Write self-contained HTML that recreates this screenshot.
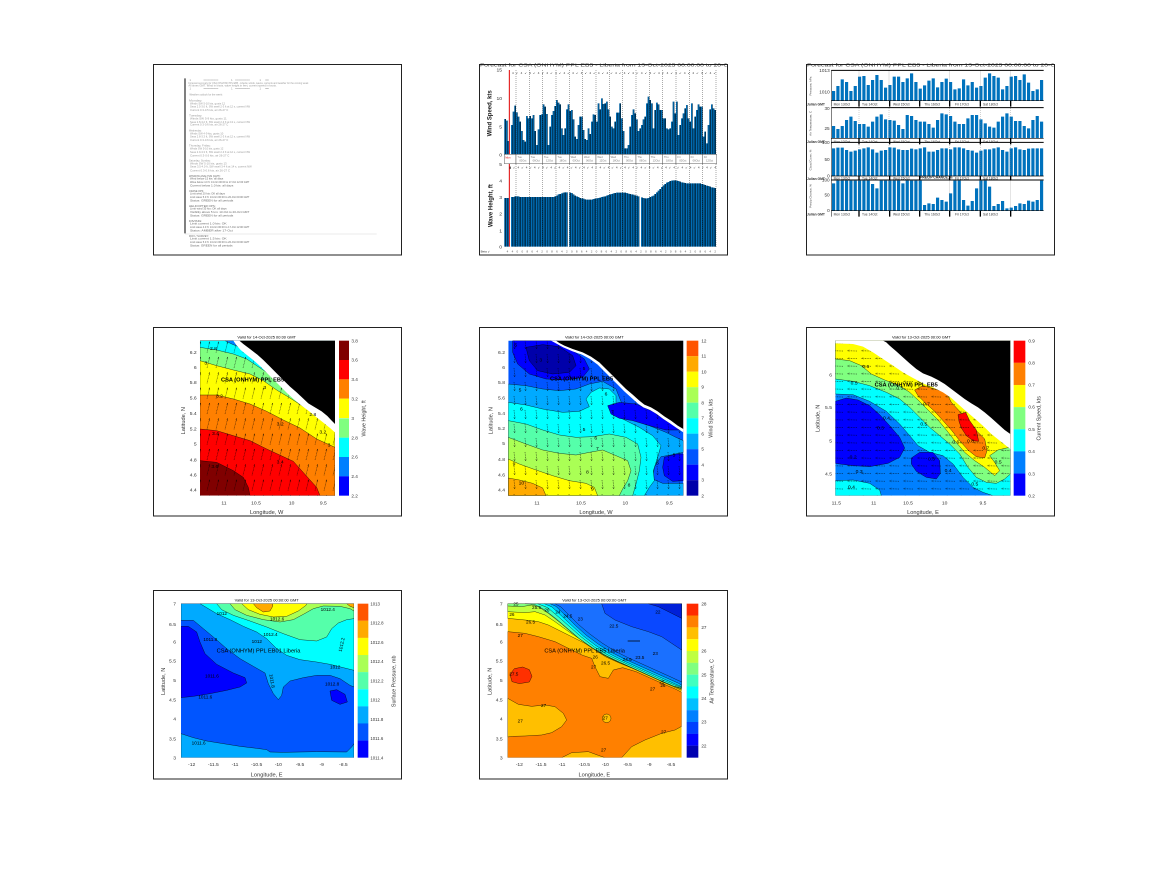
<!DOCTYPE html>
<html><head><meta charset="utf-8"><style>
html,body{margin:0;padding:0;background:#fff;}
svg{display:block;font-family:"Liberation Sans",sans-serif;}
</style></head><body>
<svg width="1167" height="875" viewBox="0 0 1167 875" xmlns="http://www.w3.org/2000/svg">
<defs>
<pattern id="vl" width="5" height="10" patternUnits="userSpaceOnUse"><rect x="3.4" y="0" width="1.7" height="10" fill="#000"/></pattern>
<pattern id="a4" width="27" height="46" patternUnits="userSpaceOnUse"><path d="M9 40L17 8M17 8l-4.5 3.5M17 8l0.5 5.5" stroke="#000" stroke-width="1.4" fill="none" stroke-dasharray="2.5 2"/></pattern>
<pattern id="a5" width="33" height="42" patternUnits="userSpaceOnUse"><path d="M15 6L17 32M17 32l-3.5-5M17 32l3-5.5" stroke="#000" stroke-width="1.3" fill="none" stroke-dasharray="3 2"/></pattern>
<pattern id="a6" width="42" height="23" patternUnits="userSpaceOnUse"><path d="M36 12L8 11M8 11l5-3M8 11l5 3" stroke="#000" stroke-width="1.3" fill="none" stroke-dasharray="3 2"/></pattern>
<clipPath id="c4"><rect x="150" y="50" width="405" height="465"/></clipPath>
<clipPath id="c5"><rect x="97" y="50" width="525" height="465"/></clipPath>
<clipPath id="c7"><rect x="93" y="50" width="519" height="462"/></clipPath>
<clipPath id="c8"><rect x="95" y="50" width="522" height="462"/></clipPath>
<clipPath id="cf"><rect x="9" y="9" width="743" height="573"/></clipPath>
</defs>
<rect width="1167" height="875" fill="#fff"/>

<!-- ============ P1 text document ============ -->
<g transform="translate(150,60) scale(0.333333)">
<path d="M105 55V520" stroke="#000" stroke-width="3"/>
<path d="M105 522H680" stroke="#e4e4e4" stroke-width="2"/>
<g font-size="9" fill="#9a9a9a" lengthAdjust="spacingAndGlyphs">
<text x="118" y="63">1</text><text x="160" y="63" textLength="45">==========</text><text x="243" y="63">1</text><text x="255" y="63" textLength="45">==========</text><text x="328" y="63">1</text><text x="345" y="63" textLength="12">===</text>
<text x="115" y="72" textLength="360" lengthAdjust="spacingAndGlyphs">Forecast summary for CSA (ONHYM) PPL EB5 - Liberia: winds, waves, currents and weather for the coming week</text>
<text x="115" y="80" textLength="265" lengthAdjust="spacingAndGlyphs">All times GMT. Wind in knots, wave height in feet, current speed in knots.</text>
<text x="118" y="89">1</text><text x="160" y="89" textLength="45">==========</text><text x="243" y="89">1</text><text x="255" y="89" textLength="45">==========</text><text x="328" y="89">1</text><text x="345" y="89" textLength="12">===</text>
<text x="118" y="106" textLength="100" lengthAdjust="spacingAndGlyphs">Weather outlook for the week:</text>
<text x="117" y="125" textLength="40" lengthAdjust="spacingAndGlyphs">Monday:</text>
<text x="120" y="133" textLength="105" lengthAdjust="spacingAndGlyphs">Winds SW 5-10 kts, gusts 12</text>
<text x="120" y="143" textLength="180" lengthAdjust="spacingAndGlyphs">Seas 2.5-3.0 ft, SW swell 2-3 ft at 12 s, current NW</text>
<text x="120" y="153" textLength="115" lengthAdjust="spacingAndGlyphs">Current 0.3-0.5 kts, air 26-27 C</text>
<text x="117" y="170" textLength="40" lengthAdjust="spacingAndGlyphs">Tuesday:</text>
<text x="120" y="179" textLength="110" lengthAdjust="spacingAndGlyphs">Winds SW 5-9 kts, gusts 11</text>
<text x="120" y="189" textLength="180" lengthAdjust="spacingAndGlyphs">Seas 2.8-3.2 ft, SW swell 2-3 ft at 13 s, current NW</text>
<text x="120" y="197" textLength="115" lengthAdjust="spacingAndGlyphs">Current 0.3-0.6 kts, air 26-27 C</text>
<text x="117" y="214" textLength="38" lengthAdjust="spacingAndGlyphs">Wednesday:</text>
<text x="120" y="223" textLength="100" lengthAdjust="spacingAndGlyphs">Winds SW 4-9 kts, gusts 10</text>
<text x="120" y="233" textLength="180" lengthAdjust="spacingAndGlyphs">Seas 2.8-3.3 ft, SW swell 2-3 ft at 12 s, current NW</text>
<text x="120" y="243" textLength="115" lengthAdjust="spacingAndGlyphs">Current 0.3-0.6 kts, air 26-27 C</text>
<text x="117" y="259" textLength="65" lengthAdjust="spacingAndGlyphs">Thursday, Friday:</text>
<text x="120" y="269" textLength="100" lengthAdjust="spacingAndGlyphs">Winds SW 5-10 kts, gusts 12</text>
<text x="120" y="279" textLength="180" lengthAdjust="spacingAndGlyphs">Seas 2.9-3.3 ft, SW swell 2-3 ft at 12 s, current NW</text>
<text x="120" y="289" textLength="118" lengthAdjust="spacingAndGlyphs">Current 0.3-0.6 kts, air 26-27 C</text>
<text x="117" y="304" textLength="65" lengthAdjust="spacingAndGlyphs">Saturday, Sunday:</text>
<text x="120" y="313" textLength="110" lengthAdjust="spacingAndGlyphs">Winds SW 5-10 kts, gusts 13</text>
<text x="120" y="323" textLength="185" lengthAdjust="spacingAndGlyphs">Seas 3.5-4.0 ft, SW swell 3-4 ft at 14 s, current NW</text>
<text x="120" y="334" textLength="120" lengthAdjust="spacingAndGlyphs">Current 0.3-0.6 kts, air 26-27 C</text>
</g>
<g font-size="9" fill="#6a6a6a">
<text x="117" y="351" textLength="95" lengthAdjust="spacingAndGlyphs">WINDOW ANALYSIS (GMT):</text>
<text x="120" y="359" textLength="100" lengthAdjust="spacingAndGlyphs">Wind below 15 kts: all days</text>
<text x="120" y="369" textLength="178" lengthAdjust="spacingAndGlyphs">Wave below 4.0 ft: 13-Oct 00:00 to 17-Oct 12:00 GMT</text>
<text x="120" y="379" textLength="130" lengthAdjust="spacingAndGlyphs">Current below 1.0 kts: all days</text>
<text x="117" y="396" textLength="45" lengthAdjust="spacingAndGlyphs">CRANE OPS:</text>
<text x="120" y="404" textLength="105" lengthAdjust="spacingAndGlyphs">Limit wind 20 kts: OK all days</text>
<text x="120" y="414" textLength="178" lengthAdjust="spacingAndGlyphs">Limit wave 5.0 ft: 13-Oct 00:00 to 20-Oct 00:00 GMT</text>
<text x="120" y="424" textLength="130" lengthAdjust="spacingAndGlyphs">Status: GREEN for all periods</text>
<text x="117" y="441" textLength="80" lengthAdjust="spacingAndGlyphs">HELICOPTER OPS:</text>
<text x="120" y="449" textLength="110" lengthAdjust="spacingAndGlyphs">Limit wind 35 kts: OK all days</text>
<text x="120" y="459" textLength="178" lengthAdjust="spacingAndGlyphs">Visibility above 5 km: 13-Oct to 20-Oct GMT</text>
<text x="120" y="469" textLength="130" lengthAdjust="spacingAndGlyphs">Status: GREEN for all periods</text>
<text x="117" y="486" textLength="40" lengthAdjust="spacingAndGlyphs">DIVING:</text>
<text x="120" y="494" textLength="110" lengthAdjust="spacingAndGlyphs">Limit current 1.0 kts: OK</text>
<text x="120" y="504" textLength="178" lengthAdjust="spacingAndGlyphs">Limit wave 4.0 ft: 13-Oct 00:00 to 17-Oct 12:00 GMT</text>
<text x="120" y="514" textLength="128" lengthAdjust="spacingAndGlyphs">Status: AMBER after 17-Oct</text>
<text x="117" y="531" textLength="60" lengthAdjust="spacingAndGlyphs">ROV / SURVEY:</text>
<text x="120" y="539" textLength="110" lengthAdjust="spacingAndGlyphs">Limit current 1.5 kts: OK</text>
<text x="120" y="549" textLength="178" lengthAdjust="spacingAndGlyphs">Limit wave 5.0 ft: 13-Oct 00:00 to 20-Oct 00:00 GMT</text>
<text x="120" y="559" textLength="128" lengthAdjust="spacingAndGlyphs">Status: GREEN for all periods</text>
</g>
</g>

<!-- ============ P2 wind / wave bars ============ -->
<g transform="translate(476,60) scale(0.333333)">
<text x="12" y="19" font-size="14" fill="#333" clip-path="url(#cf)" textLength="900" lengthAdjust="spacingAndGlyphs">Forecast for CSA (ONHYM) PPL EB5 - Liberia from 13-Oct-2025 00:00:00 to 20-Oct-2025 00:00:00</text>
<path fill="#0072bd" d="M85 285V177H90V182H95V243H100V285H105V195H110V155H115V137H120V157H125V170H130V185H135V213H140V240H145V245H150V168H155V175H160V168H165V175H170V165H175V213H180V255H185V208H190V165H195V163H200V133H205V140H210V162H215V255H220V200H225V165H230V153H235V138H240V120H245V128H250V133H255V205H260V225H265V205H270V148H275V133H280V153H285V150H290V178H295V230H300V237H305V195H310V170H315V170H320V210H325V237H330V240H335V205H340V222H345V185H350V163H355V165H360V185H365V130H370V148H375V115H380V132H385V130H390V125H395V148H400V170H405V200H410V205H415V185H420V158H425V158H430V130H435V175H440V213H445V265H450V265H455V255H460V200H465V165H470V148H475V160H480V178H485V213H490V205H495V195H500V178H505V170H510V130H515V110H520V120H525V130H530V205H535V150H540V128H545V133H550V150H555V150H560V175H565V175H570V205H575V208H580V205H585V185H590V125H595V160H600V125H605V225H610V195H615V175H620V160H625V145H630V135H635V175H640V185H645V130H650V205H655V170H660V150H665V133H670V140H675V140H680V230H685V215H690V250H695V195H700V148H705V133H710V145H715V150H720V285Z"/>
<path fill="url(#vl)" d="M85 285V177H90V182H95V243H100V285H105V195H110V155H115V137H120V157H125V170H130V185H135V213H140V240H145V245H150V168H155V175H160V168H165V175H170V165H175V213H180V255H185V208H190V165H195V163H200V133H205V140H210V162H215V255H220V200H225V165H230V153H235V138H240V120H245V128H250V133H255V205H260V225H265V205H270V148H275V133H280V153H285V150H290V178H295V230H300V237H305V195H310V170H315V170H320V210H325V237H330V240H335V205H340V222H345V185H350V163H355V165H360V185H365V130H370V148H375V115H380V132H385V130H390V125H395V148H400V170H405V200H410V205H415V185H420V158H425V158H430V130H435V175H440V213H445V265H450V265H455V255H460V200H465V165H470V148H475V160H480V178H485V213H490V205H495V195H500V178H505V170H510V130H515V110H520V120H525V130H530V205H535V150H540V128H545V133H550V150H555V150H560V175H565V175H570V205H575V208H580V205H585V185H590V125H595V160H600V125H605V225H610V195H615V175H620V160H625V145H630V135H635V175H640V185H645V130H650V205H655V170H660V150H665V133H670V140H675V140H680V230H685V215H690V250H695V195H700V148H705V133H710V145H715V150H720V285Z"/>
<path fill="#0072bd" d="M85 560V414H100V560H105V411H115V409H130V411H235V409H240V407H245V403H250V402H255V400H260V398H265V397H275V560H280V398H285V399H290V403H295V407H300V409H305V411H310V414H315V415H320V416H325V418H330V419H350V417H355V416H360V415H365V414H370V413H375V411H380V410H385V409H390V407H395V405H400V403H405V402H410V400H415V399H420V398H450V399H455V401H460V402H465V403H470V404H475V406H480V407H485V409H490V560H495V412H500V414H505V415H515V414H520V411H525V409H530V407H535V402H540V397H545V392H550V387H555V381H560V376H565V372H570V368H575V366H580V363H585V362H590V361H600V362H605V363H610V365H615V367H620V368H625V369H630V370H675V372H680V373H685V375H690V377H695V378H700V380H705V382H710V383H715V384H720V560Z"/>
<path fill="url(#vl)" d="M85 560V414H100V560H105V411H115V409H130V411H235V409H240V407H245V403H250V402H255V400H260V398H265V397H275V560H280V398H285V399H290V403H295V407H300V409H305V411H310V414H315V415H320V416H325V418H330V419H350V417H355V416H360V415H365V414H370V413H375V411H380V410H385V409H390V407H395V405H400V403H405V402H410V400H415V399H420V398H450V399H455V401H460V402H465V403H470V404H475V406H480V407H485V409H490V560H495V412H500V414H505V415H515V414H520V411H525V409H530V407H535V402H540V397H545V392H550V387H555V381H560V376H565V372H570V368H575V366H580V363H585V362H590V361H600V362H605V363H610V365H615V367H620V368H625V369H630V370H675V372H680V373H685V375H690V377H695V378H700V380H705V382H710V383H715V384H720V560Z"/>
<path d="M120 30V283M160 30V283M200 30V283M240 30V283M280 30V283M320 30V283M360 30V283M400 30V283M440 30V283M480 30V283M520 30V283M560 30V283M600 30V283M640 30V283M680 30V283M720 30V283M120 312V560M160 312V560M200 312V560M240 312V560M280 312V560M320 312V560M360 312V560M400 312V560M440 312V560M480 312V560M520 312V560M560 312V560M600 312V560M640 312V560M680 312V560M720 312V560" stroke="#000" stroke-width="1.6" stroke-dasharray="2 4"/>
<path d="M100 30V560" stroke="#e00000" stroke-width="3"/>
<g fill="#fff" stroke="#333" stroke-width="1.2">
<rect x="85" y="283" width="35" height="28"/><rect x="120" y="283" width="40" height="28"/><rect x="160" y="283" width="40" height="28"/><rect x="200" y="283" width="40" height="28"/><rect x="240" y="283" width="40" height="28"/><rect x="280" y="283" width="40" height="28"/><rect x="320" y="283" width="40" height="28"/><rect x="360" y="283" width="40" height="28"/><rect x="400" y="283" width="40" height="28"/><rect x="440" y="283" width="40" height="28"/><rect x="480" y="283" width="40" height="28"/><rect x="520" y="283" width="40" height="28"/><rect x="560" y="283" width="40" height="28"/><rect x="600" y="283" width="40" height="28"/><rect x="640" y="283" width="40" height="28"/><rect x="680" y="283" width="42" height="28"/>
</g>
<g font-size="8" fill="#777">
<text x="88" y="295" fill="#e00000">Mon</text><text x="124" y="294">Tue</text><text x="130" y="305">00Oct</text><text x="164" y="294">Tue</text><text x="170" y="305">06Oct</text><text x="204" y="294">Tue</text><text x="210" y="305">12Oct</text><text x="244" y="294">Tue</text><text x="250" y="305">18Oct</text><text x="284" y="294">Wed</text><text x="290" y="305">00Oct</text><text x="324" y="294">Wed</text><text x="330" y="305">06Oct</text><text x="364" y="294">Wed</text><text x="370" y="305">12Oct</text><text x="404" y="294">Wed</text><text x="410" y="305">18Oct</text><text x="444" y="294">Thu</text><text x="450" y="305">00Oct</text><text x="484" y="294">Thu</text><text x="490" y="305">06Oct</text><text x="524" y="294">Thu</text><text x="530" y="305">12Oct</text><text x="564" y="294">Thu</text><text x="570" y="305">18Oct</text><text x="604" y="294">Fri</text><text x="610" y="305">00Oct</text><text x="644" y="294">Fri</text><text x="650" y="305">06Oct</text><text x="684" y="294">Fri</text><text x="690" y="305">12Oct</text>
</g>
<text x="108" y="42" font-size="9" fill="#333" textLength="612" lengthAdjust="spacing">4 ↙ 4 ↙ 4 ↙ 4 ↙ 4 ↙ 4 ↙ 4 ↙ 4 ↙ 4 ↙ 4 ↙ 4 ↙ 4 ↙ 4 ↙ 4 ↙ 4 ↙ 4 ↙ 4 ↙ 4 ↙ 4 ↙ 4 ↙ 4 ↙ 4 ↙ 4 ↙ 4 ↙</text>
<text x="100" y="326" font-size="9" fill="#333" textLength="620" lengthAdjust="spacing">▮ ↙ 4 ↙ 4 ↙ 4 ↙ 4 ↙ 4 ↙ 4 ↙ 4 ↙ 4 ↙ 4 ↙ 4 ↙ 4 ↙ 4 ↙ 4 ↙ 4 ↙ 4 ↙ 4 ↙ 4 ↙ 4 ↙ 4 ↙ 4 ↙ 4 ↙ 4 ↙ 4 ↙ 4 ↙ 4</text>
<text x="92" y="578" font-size="9" fill="#555" textLength="628" lengthAdjust="spacing">4 4 0 0 8 6 4 2 0 8 6 4 2 0 8 6 4 2 0 8 6 4 2 0 8 6 4 2 0 8 6 4 2 0 8 6 4 2 0 8 6 4 2</text>
<text x="14" y="578" font-size="9" fill="#333">Beta  ↙</text>
<g font-size="15" fill="#333" text-anchor="end">
<text x="78" y="35">15</text><text x="78" y="120">10</text><text x="78" y="205">5</text><text x="78" y="290">0</text>
<text x="78" y="318">5</text><text x="78" y="367">4</text><text x="78" y="417">3</text><text x="78" y="467">2</text><text x="78" y="517">1</text><text x="78" y="565">0</text>
</g>
<text transform="translate(47,160) rotate(-90)" font-size="18" fill="#222" font-weight="bold" text-anchor="middle">Wind Speed, kts</text>
<text transform="translate(50,437) rotate(-90)" font-size="18" fill="#222" font-weight="bold" text-anchor="middle">Wave Height, ft</text>
</g>

<!-- ============ P3 four bar charts ============ -->
<g transform="translate(803,60) scale(0.333333)">
<text x="12" y="19" font-size="14" fill="#333" clip-path="url(#cf)" textLength="900" lengthAdjust="spacingAndGlyphs">Forecast for CSA (ONHYM) PPL EB5 - Liberia from 13-Oct-2025 00:00:00 to 20-Oct-2025 00:00:00</text>
<g stroke="#0072bd" stroke-width="9.5">
<path d="M91.75 122V93M104.75 122V78M117.75 122V58M130.75 122V66M143.75 122V93M156.75 122V78M169.75 122V50M182.75 122V48M195.75 122V75M208.75 122V60M221.75 122V45M234.75 122V60M247.75 122V83M260.75 122V75M273.75 122V50M286.75 122V50M299.75 122V66M312.75 122V55M325.75 122V40M338.75 122V66M351.75 122V86M364.75 122V76M377.75 122V62M390.75 122V55M403.75 122V82M416.75 122V66M429.75 122V56M442.75 122V66M455.75 122V88M468.75 122V85M481.75 122V58M494.75 122V76M507.75 122V66M520.75 122V83M533.75 122V78M546.75 122V53M559.75 122V40M572.75 122V48M585.75 122V53M598.75 122V88M611.75 122V78M624.75 122V50M637.75 122V48M650.75 122V60M663.75 122V43M676.75 122V68M689.75 122V93M702.75 122V88M715.75 122V60"/>
<path d="M91.75 235V198M104.75 235V207M117.75 235V198M130.75 235V180M143.75 235V170M156.75 235V183M169.75 235V192M182.75 235V192M195.75 235V200M208.75 235V185M221.75 235V170M234.75 235V163M247.75 235V178M260.75 235V180M273.75 235V182M286.75 235V195M299.75 235V207M312.75 235V165M325.75 235V168M338.75 235V180M351.75 235V185M364.75 235V185M377.75 235V192M390.75 235V203M403.75 235V180M416.75 235V160M429.75 235V163M442.75 235V168M455.75 235V185M468.75 235V192M481.75 235V192M494.75 235V175M507.75 235V165M520.75 235V165M533.75 235V178M546.75 235V190M559.75 235V200M572.75 235V203M585.75 235V185M598.75 235V170M611.75 235V160M624.75 235V170M637.75 235V183M650.75 235V183M663.75 235V198M676.75 235V205M689.75 235V180M702.75 235V168M715.75 235V185"/>
<path d="M91.75 348V265M104.75 348V263M117.75 348V263M130.75 348V270M143.75 348V275M156.75 348V272M169.75 348V268M182.75 348V265M195.75 348V262M208.75 348V268M221.75 348V278M234.75 348V272M247.75 348V270M260.75 348V262M273.75 348V263M286.75 348V268M299.75 348V270M312.75 348V270M325.75 348V266M338.75 348V268M351.75 348V265M364.75 348V262M377.75 348V275M390.75 348V275M403.75 348V270M416.75 348V265M429.75 348V265M442.75 348V268M455.75 348V262M468.75 348V262M481.75 348V265M494.75 348V270M507.75 348V272M520.75 348V278M533.75 348V272M546.75 348V268M559.75 348V268M572.75 348V265M585.75 348V262M598.75 348V270M611.75 348V275M624.75 348V265M637.75 348V262M650.75 348V268M663.75 348V270M676.75 348V266M689.75 348V265M702.75 348V265M715.75 348V265"/>
<path d="M91.75 452V370M104.75 452V362M117.75 452V362M130.75 452V362M143.75 452V362M156.75 452V362M169.75 452V362M182.75 452V362M195.75 452V362M208.75 452V372M221.75 452V385M234.75 452V362M247.75 452V362M260.75 452V362M273.75 452V362M286.75 452V362M299.75 452V370M312.75 452V362M325.75 452V362M338.75 452V362M351.75 452V362M364.75 452V435M377.75 452V430M390.75 452V432M403.75 452V413M416.75 452V420M429.75 452V425M442.75 452V400M455.75 452V362M468.75 452V362M481.75 452V420M494.75 452V437M507.75 452V423M520.75 452V385M533.75 452V362M546.75 452V362M559.75 452V380M572.75 452V438M585.75 452V432M598.75 452V423M611.75 452V445M624.75 452V443M637.75 452V438M650.75 452V430M663.75 452V432M676.75 452V422M689.75 452V425M702.75 452V420M715.75 452V362"/>
</g>
<path d="M168 32V121M258 32V121M440 32V121M532 32V121M623 32V121M168 145V234M258 145V234M440 145V234M532 145V234M623 145V234M168 249V347M258 249V347M440 249V347M532 249V347M623 249V347M168 362V451M258 362V451M440 362V451M532 362V451M623 362V451" stroke="#777" stroke-width="1.6" stroke-dasharray="2 4"/>
<g stroke="#000" fill="none">
<path d="M85 31H722M85 143H722M85 247H722M85 360H722" stroke-width="3"/>
<path d="M85 122H722M85 235H722M85 348H722M85 452H722" stroke-width="2"/>
<path d="M85 31V140M85 143V253M85 247V360M85 360V470" stroke-width="1.5"/>
<path d="M168 122V140M260 122V140M350 122V140M440 122V140M532 122V140M623 122V140M168 235V253M260 235V253M350 235V253M440 235V253M532 235V253M623 235V253M168 348V360M260 348V360M350 348V360M440 348V360M532 348V360M623 348V360M168 452V470M260 452V470M350 452V470M440 452V470M532 452V470M623 452V470" stroke-width="4"/>
</g>
<g font-size="10" fill="#333">
<text x="92" y="136">Mon 13Oct</text><text x="177" y="136">Tue 14Oct</text><text x="270" y="136">Wed 15Oct</text><text x="364" y="136">Thu 16Oct</text><text x="456" y="136">Fri 17Oct</text><text x="540" y="136">Sat 18Oct</text>
<text x="92" y="249">Mon 13Oct</text><text x="177" y="249">Tue 14Oct</text><text x="270" y="249">Wed 15Oct</text><text x="364" y="249">Thu 16Oct</text><text x="456" y="249">Fri 17Oct</text><text x="540" y="249">Sat 18Oct</text>
<text x="92" y="358">Mon 13Oct</text><text x="177" y="358">Tue 14Oct</text><text x="270" y="358">Wed 15Oct</text><text x="456" y="358">Fri 17Oct</text><text x="540" y="358">Sat 18Oct</text>
<text x="92" y="466">Mon 13Oct</text><text x="177" y="466">Tue 14Oct</text><text x="270" y="466">Wed 15Oct</text><text x="364" y="466">Thu 16Oct</text><text x="456" y="466">Fri 17Oct</text><text x="540" y="466">Sat 18Oct</text>
<text x="12" y="136" font-weight="bold">Julian GMT</text><text x="12" y="249" font-weight="bold">Julian GMT</text><text x="12" y="360" font-weight="bold">Julian GMT</text><text x="12" y="466" font-weight="bold">Julian GMT</text>
</g>
<text x="400" y="355" font-size="10" fill="#222" font-weight="bold" text-anchor="middle">PRECIP CHANCE, %</text>
<g font-size="14" fill="#333" text-anchor="end">
<text x="80" y="36">1013</text><text x="80" y="100">1010</text>
<text x="80" y="150">30</text><text x="80" y="210">25</text>
<text x="80" y="252">100</text><text x="80" y="303">50</text><text x="80" y="352">0</text>
<text x="80" y="365">100</text><text x="80" y="410">50</text><text x="80" y="456">0</text>
</g>
<g font-size="9" fill="#444" text-anchor="middle">
<text transform="translate(26,78) rotate(-90)">Pressure, hPa</text>
<text transform="translate(26,190) rotate(-90)">Air Temperature, C</text>
<text transform="translate(26,300) rotate(-90)">Cloud Cover, %</text>
<text transform="translate(26,408) rotate(-90)">Precip Chance, %</text>
</g>
</g>

<!-- ============ P4 wave height map ============ -->
<g transform="translate(150,324) scale(0.333333)">
<g clip-path="url(#c4)">
<rect x="150" y="50" width="405" height="465" fill="#800000"/>
<g stroke="#000" stroke-width="1.3" stroke-opacity="0.85">
<polygon fill="#ff0000" points="150,410 200,415 250,440 280,460 295,490 300,515 555,515 555,50 150,50"/>
<polygon fill="#ff8000" points="150,315 200,320 250,335 300,350 350,375 400,398 430,412 455,440 480,468 500,490 510,515 555,515 555,50 150,50"/>
<polygon fill="#ffff00" points="150,213 200,213 250,225 300,240 350,262 400,288 450,312 500,345 555,370 555,50 150,50"/>
<polygon fill="#80ff80" points="150,110 200,125 250,138 300,150 340,170 380,198 420,222 460,248 500,272 530,295 555,318 555,50 150,50"/>
<polygon fill="#00ffff" points="150,70 200,78 250,90 290,105 320,125 350,145 390,175 420,200 450,220 480,238 510,258 535,280 555,300 555,50 150,50"/>
<polygon fill="#0080ff" points="225,50 245,60 275,72 300,88 325,108 340,104 310,78 280,58 268,50"/>
</g>
<rect x="150" y="50" width="405" height="465" fill="url(#a4)"/>
<polygon fill="#fff" points="250,50 258,62 272,78 292,94 312,110 332,128 352,148 372,168 392,188 412,208 432,226 456,246 478,262 500,280 520,296 540,312 555,325 555,50"/>
<polygon fill="#000" points="268,50 280,60 300,75 322,92 340,108 360,128 380,148 400,168 420,188 440,205 458,222 475,238 495,250 515,262 532,276 545,290 555,300 555,50"/>
</g>
<g font-size="15" fill="#000">
<text x="180" y="78">2.8</text><text x="163" y="122">3</text><text x="198" y="220">3.2</text><text x="186" y="333">3.4</text><text x="184" y="432">3.6</text><text x="380" y="304">3.2</text><text x="380" y="418">3.4</text><text x="478" y="276">2.8</text><text x="508" y="328">3.2</text><text x="533" y="368">3</text><text x="340" y="195">3</text>
</g>
<text x="213" y="172" font-size="17" font-weight="bold" fill="#000">CSA (ONHYM) PPL EB5</text>
<text x="350" y="43" font-size="12" fill="#000" text-anchor="middle">Valid for 14-Oct-2025 00:00 GMT</text>
<g font-size="15" fill="#333" text-anchor="end">
<text x="140" y="90">6.2</text><text x="140" y="135">6</text><text x="140" y="180">5.8</text><text x="140" y="227">5.6</text><text x="140" y="273">5.4</text><text x="140" y="320">5.2</text><text x="140" y="365">5</text><text x="140" y="412">4.8</text><text x="140" y="457">4.6</text><text x="140" y="503">4.4</text>
</g>
<g font-size="15" fill="#333" text-anchor="middle">
<text x="222" y="541">11</text><text x="318" y="541">10.5</text><text x="425" y="541">10</text><text x="520" y="541">9.5</text>
</g>
<text x="350" y="570" font-size="17" fill="#333" text-anchor="middle">Longitude, W</text>
<text transform="translate(105,290) rotate(-90)" font-size="17" fill="#333" text-anchor="middle">Latitude, N</text>
<rect x="567" y="50" width="30" height="58.2" fill="#800000"/><rect x="567" y="108" width="30" height="58.2" fill="#ff0000"/><rect x="567" y="166" width="30" height="58.2" fill="#ff8000"/><rect x="567" y="224" width="30" height="58.2" fill="#ffff00"/><rect x="567" y="283" width="30" height="58.2" fill="#80ff80"/><rect x="567" y="341" width="30" height="58.2" fill="#00ffff"/><rect x="567" y="399" width="30" height="58.2" fill="#0080ff"/><rect x="567" y="457" width="30" height="58" fill="#0000ff"/>
<g font-size="14" fill="#333">
<text x="604" y="55">3.8</text><text x="604" y="113">3.6</text><text x="604" y="171">3.4</text><text x="604" y="229">3.2</text><text x="604" y="288">3</text><text x="604" y="346">2.8</text><text x="604" y="404">2.6</text><text x="604" y="462">2.4</text><text x="604" y="520">2.2</text>
</g>
<text transform="translate(647,283) rotate(-90)" font-size="16" fill="#333" text-anchor="middle">Wave Height, ft</text>
</g>

<!-- ============ P5 wind speed map ============ -->
<g transform="translate(476,324) scale(0.333333)">
<g clip-path="url(#c5)">
<rect x="97" y="50" width="525" height="465" fill="#0055ff"/>
<g stroke="#000" stroke-width="1.3" stroke-opacity="0.85">
<polygon fill="#00aaff" points="97,180 150,185 200,195 250,200 300,195 340,180 380,172 420,195 440,245 465,285 520,305 570,325 600,340 622,350 622,385 590,392 555,398 535,430 530,465 560,478 622,478 622,515 97,515"/>
<polygon fill="#00ffff" points="97,235 150,243 200,255 260,265 310,262 340,248 330,225 345,205 370,192 400,195 420,215 420,250 410,272 440,285 490,310 530,335 555,365 545,400 532,440 535,470 520,490 505,515 97,515"/>
<polygon fill="#55ffaa" points="97,290 150,300 200,318 250,333 300,340 350,338 400,330 450,340 485,360 495,400 490,440 480,480 470,515 97,515"/>
<polygon fill="#aaff55" points="97,340 150,360 200,378 250,388 300,393 340,385 380,378 420,395 455,410 465,440 455,470 440,495 430,515 97,515"/>
<polygon fill="#ffff00" points="97,405 130,420 180,438 230,455 280,470 330,478 355,490 365,515 97,515"/>
<polygon fill="#ffaa00" points="97,462 130,468 170,478 200,492 210,515 97,515"/>
<polygon fill="#0000ff" points="110,50 245,50 290,80 325,105 340,135 320,160 270,168 210,165 160,150 125,120 110,85"/>
<polygon fill="#0000ff" points="395,245 430,235 480,240 530,262 570,290 600,308 610,318 570,318 520,305 470,290 430,283 405,270"/>
<polygon fill="#0000ff" points="565,400 600,390 622,390 622,470 590,472 565,455 560,430"/>
<polygon fill="#0000aa" points="150,70 200,62 250,68 290,95 300,125 280,145 230,150 185,140 160,110"/>
</g>
<rect x="97" y="50" width="525" height="465" fill="url(#a5)"/>
<polygon fill="#fff" points="225,50 240,58 262,70 290,82 318,92 342,105 365,122 385,142 405,162 425,182 445,202 465,220 485,238 502,250 522,258 542,270 562,285 582,298 602,312 622,325 622,50"/>
<polygon fill="#000" points="240,50 250,57 265,65 290,75 320,85 345,98 370,115 390,135 410,155 430,175 450,195 470,212 490,230 505,242 525,250 545,262 565,277 585,290 605,305 622,315 622,50"/>
</g>
<g font-size="15" fill="#000">
<text x="115" y="68">5</text><text x="190" y="113">3</text><text x="320" y="138">5</text><text x="386" y="215">6</text><text x="128" y="203">5</text><text x="132" y="260">6</text><text x="320" y="321">5</text><text x="405" y="268">7</text><text x="355" y="346">6</text><text x="360" y="378">7</text><text x="330" y="448">8</text><text x="345" y="500">9</text><text x="455" y="487">8</text><text x="110" y="425">9</text><text x="128" y="482">10</text><text x="590" y="398">5</text><text x="540" y="421">6</text>
</g>
<text x="222" y="170" font-size="17" font-weight="bold" fill="#000">CSA (ONHYM) PPL EB5</text>
<text x="355" y="43" font-size="12" fill="#000" text-anchor="middle">Valid for 14-Oct-2025 00:00 GMT</text>
<g font-size="15" fill="#333" text-anchor="end">
<text x="87" y="90">6.2</text><text x="87" y="135">6</text><text x="87" y="180">5.8</text><text x="87" y="227">5.6</text><text x="87" y="273">5.4</text><text x="87" y="318">5.2</text><text x="87" y="363">5</text><text x="87" y="411">4.8</text><text x="87" y="457">4.6</text><text x="87" y="503">4.4</text>
</g>
<g font-size="15" fill="#333" text-anchor="middle">
<text x="183" y="541">11</text><text x="315" y="541">10.5</text><text x="448" y="541">10</text><text x="580" y="541">9.5</text>
</g>
<text x="360" y="570" font-size="17" fill="#333" text-anchor="middle">Longitude, W</text>
<text transform="translate(50,290) rotate(-90)" font-size="17" fill="#333" text-anchor="middle">Latitude, N</text>
<rect x="632" y="50" width="35" height="46.7" fill="#ff5500"/><rect x="632" y="96.5" width="35" height="46.7" fill="#ffaa00"/><rect x="632" y="143" width="35" height="46.7" fill="#ffff00"/><rect x="632" y="189.5" width="35" height="46.7" fill="#aaff55"/><rect x="632" y="236" width="35" height="46.7" fill="#55ffaa"/><rect x="632" y="282.5" width="35" height="46.7" fill="#00ffff"/><rect x="632" y="329" width="35" height="46.7" fill="#00aaff"/><rect x="632" y="375.5" width="35" height="46.7" fill="#0055ff"/><rect x="632" y="422" width="35" height="46.7" fill="#0000ff"/><rect x="632" y="468.5" width="35" height="46.5" fill="#0000aa"/>
<g font-size="14" fill="#333">
<text x="676" y="55">12</text><text x="676" y="101">11</text><text x="676" y="148">10</text><text x="676" y="194">9</text><text x="676" y="241">8</text><text x="676" y="287">7</text><text x="676" y="334">6</text><text x="676" y="380">5</text><text x="676" y="427">4</text><text x="676" y="473">3</text><text x="676" y="520">2</text>
</g>
<text transform="translate(710,283) rotate(-90)" font-size="16" fill="#333" text-anchor="middle">Wind Speed, kts</text>
</g>

<!-- ============ P6 current speed map ============ -->
<g transform="translate(803,324) scale(0.333333)">
<g clip-path="url(#c5)">
<rect x="97" y="50" width="525" height="465" fill="#0080ff"/>
<g stroke="#000" stroke-width="1.3" stroke-opacity="0.85">
<polygon fill="#00ffff" points="97,50 97,210 150,212 200,232 250,262 290,300 320,335 345,365 380,385 420,395 450,420 480,460 510,490 540,505 570,515 622,515 622,50"/>
<polygon fill="#00ffff" points="97,470 150,468 200,478 230,498 235,515 97,515"/>
<polygon fill="#80ff80" points="97,50 97,165 150,172 200,185 250,205 290,225 320,250 350,280 380,310 410,335 440,360 470,390 495,430 520,460 550,475 580,478 605,465 622,450 622,50"/>
<polygon fill="#ffff00" points="97,50 97,105 140,110 175,125 205,150 245,168 290,185 320,205 345,228 375,258 405,288 430,318 455,350 485,385 515,410 545,430 575,455 590,440 575,415 560,395 585,378 610,372 622,370 622,50"/>
<polygon fill="#ff8000" points="335,198 360,185 395,195 430,205 445,235 470,262 495,295 520,320 545,345 552,380 545,402 520,398 495,378 470,350 445,318 420,290 395,262 365,235 345,215"/>
<polygon fill="#ff0000" points="465,272 488,265 500,290 520,318 527,352 510,350 490,335 475,312 468,292"/>
<polygon fill="#0000ff" points="97,232 130,222 165,228 200,245 230,272 260,305 290,340 305,372 290,400 255,418 200,428 150,425 110,420 97,418"/>
<polygon fill="#0000ff" points="325,402 350,385 390,385 410,410 412,448 400,465 370,460 340,442 325,420"/>
</g>
<rect x="97" y="50" width="525" height="465" fill="url(#a6)"/>
<polygon fill="#fff" points="97,50 97,58 150,60 180,68 210,85 240,105 270,125 300,145 330,162 360,178 390,190 420,205 445,222 465,240 485,258 505,275 525,292 545,310 565,330 590,350 622,375 622,50"/>
<polygon fill="#000" points="240,50 250,55 260,65 280,82 300,100 320,118 340,135 360,148 385,158 405,168 425,180 445,195 465,210 485,225 505,238 525,250 545,265 565,282 585,300 605,318 622,330 622,50"/>
</g>
<g font-size="15" fill="#000">
<text x="178" y="132">0.6</text><text x="143" y="181">0.5</text><text x="280" y="196">0.5</text><text x="360" y="244">0.7</text><text x="240" y="286">0.4</text><text x="222" y="316">0.3</text><text x="352" y="304">0.5</text><text x="448" y="359">0.6</text><text x="492" y="356">0.8</text><text x="538" y="376">0.7</text><text x="575" y="418">0.5</text><text x="140" y="404">0.2</text><text x="158" y="447">0.3</text><text x="375" y="409">0.3</text><text x="425" y="444">0.4</text><text x="135" y="494">0.4</text><text x="505" y="484">0.5</text>
</g>
<text x="215" y="187" font-size="17" font-weight="bold" fill="#000">CSA (ONHYM) PPL EB5</text>
<text x="355" y="43" font-size="12" fill="#000" text-anchor="middle">Valid for 13-Oct-2025 00:00 GMT</text>
<g font-size="15" fill="#333" text-anchor="end">
<text x="87" y="157">6</text><text x="87" y="255">5.5</text><text x="87" y="355">5</text><text x="87" y="455">4.5</text>
</g>
<g font-size="15" fill="#333" text-anchor="middle">
<text x="100" y="541">11.5</text><text x="212" y="541">11</text><text x="315" y="541">10.5</text><text x="425" y="541">10</text><text x="540" y="541">9.5</text>
</g>
<text x="360" y="570" font-size="17" fill="#333" text-anchor="middle">Longitude, E</text>
<text transform="translate(50,283) rotate(-90)" font-size="17" fill="#333" text-anchor="middle">Latitude, N</text>
<rect x="632" y="50" width="35" height="66.6" fill="#ff0000"/><rect x="632" y="116.4" width="35" height="66.6" fill="#ff8000"/><rect x="632" y="182.9" width="35" height="66.6" fill="#ffff00"/><rect x="632" y="249.3" width="35" height="66.6" fill="#80ff80"/><rect x="632" y="315.7" width="35" height="66.6" fill="#00ffff"/><rect x="632" y="382.1" width="35" height="66.6" fill="#0080ff"/><rect x="632" y="448.6" width="35" height="66.4" fill="#0000ff"/>
<g font-size="14" fill="#333">
<text x="676" y="55">0.9</text><text x="676" y="121">0.8</text><text x="676" y="188">0.7</text><text x="676" y="254">0.6</text><text x="676" y="321">0.5</text><text x="676" y="387">0.4</text><text x="676" y="454">0.3</text><text x="676" y="520">0.2</text>
</g>
<text transform="translate(712,283) rotate(-90)" font-size="16" fill="#333" text-anchor="middle">Current Speed, kts</text>
</g>

<!-- ============ P7 surface pressure map ============ -->
<g transform="translate(150,587) scale(0.333333)">
<g clip-path="url(#c7)">
<rect x="93" y="50" width="519" height="462" fill="#0055ff"/>
<g stroke="#000" stroke-width="1.3" stroke-opacity="0.85">
<polygon fill="#00aaff" points="93,440 130,452 170,462 220,470 270,478 320,484 350,488 360,495 400,496 500,494 590,495 605,480 612,470 612,512 93,512"/>
<polygon fill="#00aaff" points="93,50 93,100 130,100 160,125 190,150 230,185 270,215 310,238 345,258 355,290 370,320 385,338 395,325 400,300 420,282 460,272 500,265 540,265 570,275 600,295 612,300 612,50"/>
<polygon fill="#00ffff" points="150,50 170,62 200,80 240,98 280,118 320,135 350,155 380,185 410,205 450,218 500,225 540,232 580,242 612,250 612,50"/>
<polygon fill="#55ffaa" points="200,50 215,68 250,85 300,102 350,120 400,140 450,158 500,162 530,150 545,125 565,108 590,98 612,95 612,50"/>
<polygon fill="#aaff55" points="240,50 255,68 290,85 340,98 390,105 430,98 460,82 490,65 520,57 570,58 600,65 612,72 612,50"/>
<polygon fill="#ffff00" points="275,50 295,68 330,82 370,90 410,88 445,72 468,55 470,50"/>
<polygon fill="#ffaa00" points="310,50 320,62 340,75 360,72 368,58 368,50"/>
<polygon fill="#ffaa00" points="590,50 612,50 612,62 600,58"/>
<polygon fill="#0000ff" points="93,118 115,118 140,135 150,165 165,200 200,232 250,258 285,272 290,288 270,300 230,310 180,320 130,328 93,332"/>
<polygon fill="#0000ff" points="540,312 560,308 585,322 592,345 570,352 545,340"/>
</g>
</g>
<g font-size="14" fill="#000">
<text x="200" y="84">1012</text><text x="360" y="100">1012.6</text><text x="512" y="72">1012.4</text><text x="340" y="147">1012.4</text><text x="160" y="162">1011.8</text><text x="305" y="168">1012</text><text x="540" y="245">1012</text><text x="165" y="272">1011.6</text><text x="145" y="334">1011.6</text><text x="525" y="295">1012.8</text><text x="125" y="472">1011.6</text>
<text transform="translate(575,195) rotate(-78)">1012.2</text>
<text transform="translate(358,262) rotate(80)">1011.8</text>
</g>
<text x="200" y="197" font-size="17" fill="#000">CSA (ONHYM) PPL EB01 Liberia</text>
<text x="350" y="43" font-size="12" fill="#000" text-anchor="middle">Valid for 13-Oct-2025 00:00:00 GMT</text>
<g font-size="15" fill="#333" text-anchor="end">
<text x="78" y="55">7</text><text x="78" y="117">6.5</text><text x="78" y="170">6</text><text x="78" y="227">5.5</text><text x="78" y="285">5</text><text x="78" y="343">4.5</text><text x="78" y="401">4</text><text x="78" y="460">3.5</text><text x="78" y="517">3</text>
</g>
<g font-size="15" fill="#333" text-anchor="middle">
<text x="125" y="537">-12</text><text x="190" y="537">-11.5</text><text x="255" y="537">-11</text><text x="320" y="537">-10.5</text><text x="385" y="537">-10</text><text x="450" y="537">-9.5</text><text x="515" y="537">-9</text><text x="580" y="537">-8.5</text>
</g>
<text x="350" y="568" font-size="17" fill="#333" text-anchor="middle">Longitude, E</text>
<text transform="translate(45,283) rotate(-90)" font-size="17" fill="#333" text-anchor="middle">Latitude, N</text>
<rect x="623" y="50" width="32" height="51.5" fill="#ff5500"/><rect x="623" y="101.3" width="32" height="51.5" fill="#ffaa00"/><rect x="623" y="152.7" width="32" height="51.5" fill="#ffff00"/><rect x="623" y="204" width="32" height="51.5" fill="#aaff55"/><rect x="623" y="255.3" width="32" height="51.5" fill="#55ffaa"/><rect x="623" y="306.7" width="32" height="51.5" fill="#00ffff"/><rect x="623" y="358" width="32" height="51.5" fill="#00aaff"/><rect x="623" y="409.3" width="32" height="51.5" fill="#0055ff"/><rect x="623" y="460.7" width="32" height="51.3" fill="#0000ff"/>
<g font-size="13" fill="#333">
<text x="661" y="55">1013</text><text x="661" y="113">1012.8</text><text x="661" y="171">1012.6</text><text x="661" y="228">1012.4</text><text x="661" y="286">1012.2</text><text x="661" y="344">1012</text><text x="661" y="402">1011.8</text><text x="661" y="459">1011.6</text><text x="661" y="517">1011.4</text>
</g>
<text transform="translate(737,283) rotate(-90)" font-size="16" fill="#333" text-anchor="middle">Surface Pressure, mb</text>
</g>

<!-- ============ P8 air temperature map ============ -->
<g transform="translate(476,587) scale(0.333333)">
<g clip-path="url(#c8)">
<rect x="95" y="50" width="522" height="462" fill="#ffbf00"/>
<g stroke="#000" stroke-width="1.3" stroke-opacity="0.85">
<polygon fill="#ff8000" points="95,134 147,139 187,149 237,164 287,189 320,205 347,214 357,239 372,269 397,274 412,249 440,242 480,254 520,272 560,290 600,307 617,316 617,418 597,429 557,439 507,459 467,479 437,512 387,512 367,505 337,494 287,497 257,512 95,512"/>
<polygon fill="#ffbf00" points="95,334 127,352 167,358 207,354 237,359 262,379 272,399 257,419 227,437 197,444 147,447 110,448 95,450"/>
<circle cx="392" cy="394" r="13" fill="#ffbf00"/>
<polygon fill="#ff3000" points="102,262 115,245 140,240 160,248 168,268 160,285 130,290 108,284"/>
<polygon fill="#ffff00" points="95,94 147,99 187,104 217,114 247,129 287,149 327,169 357,189 390,210 430,228 470,244 510,262 550,280 590,298 617,310 617,50 95,50"/>
<polygon fill="#bfff40" points="95,74 147,77 177,74 207,84 237,104 270,128 305,152 340,176 375,200 415,220 455,237 495,254 535,272 575,290 617,307 617,50 95,50"/>
<polygon fill="#80ff80" points="95,57 137,59 167,54 187,59 217,79 250,105 285,135 320,162 360,190 400,212 440,230 480,248 520,266 560,284 600,300 617,305 617,50 95,50"/>
<polygon fill="#40ffbf" points="147,50 175,52 205,68 240,95 275,125 310,155 350,183 392,207 432,226 472,244 512,262 552,280 592,297 617,303 617,50"/>
<polygon fill="#00ffff" points="185,50 215,62 248,90 282,120 316,150 355,180 396,204 436,223 476,241 516,259 556,277 596,294 617,301 617,50"/>
<polygon fill="#00bfff" points="205,50 228,60 258,88 290,118 322,147 360,176 400,200 440,220 480,238 520,256 560,274 600,292 617,299 617,50"/>
<polygon fill="#0080ff" points="222,50 240,58 268,85 298,115 330,144 368,172 408,197 448,217 488,235 528,253 568,271 608,289 617,295 617,50"/>
<polygon fill="#1a70ff" points="237,50 255,60 280,85 308,113 340,140 378,168 418,193 458,213 498,231 538,249 578,267 617,285 617,50"/>
<polygon fill="#0a48ff" points="377,50 387,79 417,99 467,119 517,134 557,149 587,169 617,189 617,50"/>
<polygon fill="#0020d8" points="517,50 547,59 587,79 617,94 617,50"/>
</g>
<path d="M455 162H492" stroke="#000" stroke-width="2"/>
</g>
<g font-size="14" fill="#000">
<text x="112" y="55">25</text><text x="100" y="87">26</text><text x="150" y="110">26.5</text><text x="168" y="66">25.5</text><text x="205" y="74">26</text><text x="238" y="80">24</text><text x="262" y="92">24.5</text><text x="305" y="100">23</text><text x="125" y="150">27</text><text x="400" y="122">22.5</text><text x="530" y="204">23</text><text x="538" y="80">22</text><text x="350" y="214">26</text><text x="375" y="232">26.5</text><text x="440" y="222">24.5</text><text x="478" y="216">23.5</text><text x="100" y="265">27.5</text><text x="195" y="360">27</text><text x="125" y="406">27</text><text x="380" y="397">27</text><text x="555" y="440">27</text><text x="375" y="494">27</text><text x="522" y="310">27</text><text x="553" y="300">26</text><text x="550" y="290">25</text><text x="345" y="245">27</text>
</g>
<text x="205" y="197" font-size="17" fill="#000">CSA (ONHYM) PPL EB5    Liberia</text>
<text x="355" y="43" font-size="12" fill="#000" text-anchor="middle">Valid for 13-Oct-2025 00:00:00 GMT</text>
<g font-size="15" fill="#333" text-anchor="end">
<text x="80" y="55">7</text><text x="80" y="117">6.5</text><text x="80" y="170">6</text><text x="80" y="227">5.5</text><text x="80" y="285">5</text><text x="80" y="343">4.5</text><text x="80" y="401">4</text><text x="80" y="460">3.5</text><text x="80" y="517">3</text>
</g>
<g font-size="15" fill="#333" text-anchor="middle">
<text x="130" y="537">-12</text><text x="195" y="537">-11.5</text><text x="258" y="537">-11</text><text x="325" y="537">-10.5</text><text x="388" y="537">-10</text><text x="455" y="537">-9.5</text><text x="520" y="537">-9</text><text x="585" y="537">-8.5</text>
</g>
<text x="355" y="568" font-size="17" fill="#333" text-anchor="middle">Longitude, E</text>
<text transform="translate(47,283) rotate(-90)" font-size="17" fill="#333" text-anchor="middle">Latitude, N</text>
<rect x="632" y="50" width="35" height="35.8" fill="#ff2a00"/><rect x="632" y="85.5" width="35" height="35.8" fill="#ff8000"/><rect x="632" y="121" width="35" height="35.8" fill="#ffbf00"/><rect x="632" y="156.5" width="35" height="35.8" fill="#ffff00"/><rect x="632" y="192" width="35" height="35.8" fill="#bfff40"/><rect x="632" y="227.5" width="35" height="35.8" fill="#80ff80"/><rect x="632" y="263" width="35" height="35.8" fill="#40ffbf"/><rect x="632" y="298.5" width="35" height="35.8" fill="#00ffff"/><rect x="632" y="334" width="35" height="35.8" fill="#00bfff"/><rect x="632" y="369.5" width="35" height="35.8" fill="#0080ff"/><rect x="632" y="405" width="35" height="35.8" fill="#0040ff"/><rect x="632" y="440.5" width="35" height="35.8" fill="#0000ff"/><rect x="632" y="476" width="35" height="36" fill="#0000b0"/>
<g font-size="14" fill="#333">
<text x="676" y="55">28</text><text x="676" y="126">27</text><text x="676" y="197">26</text><text x="676" y="268">25</text><text x="676" y="339">24</text><text x="676" y="410">23</text><text x="676" y="481">22</text>
</g>
<text transform="translate(712,283) rotate(-90)" font-size="16" fill="#333" text-anchor="middle">Air Temperature, C</text>
</g>

<!-- ============ frames ============ -->
<g fill="none" stroke="#222" stroke-width="1">
<rect x="153.5" y="64.5" width="248" height="190.5"/>
<rect x="479.5" y="64.5" width="248" height="190.5"/>
<rect x="806.5" y="64.5" width="248" height="190.5"/>
<rect x="153.5" y="327.5" width="248" height="188.5"/>
<rect x="479.5" y="327.5" width="248" height="188.5"/>
<rect x="806.5" y="327.5" width="248" height="188.5"/>
<rect x="153.5" y="590.5" width="248" height="188.5"/>
<rect x="479.5" y="590.5" width="248" height="188.5"/>
</g>
</svg>
</body></html>
